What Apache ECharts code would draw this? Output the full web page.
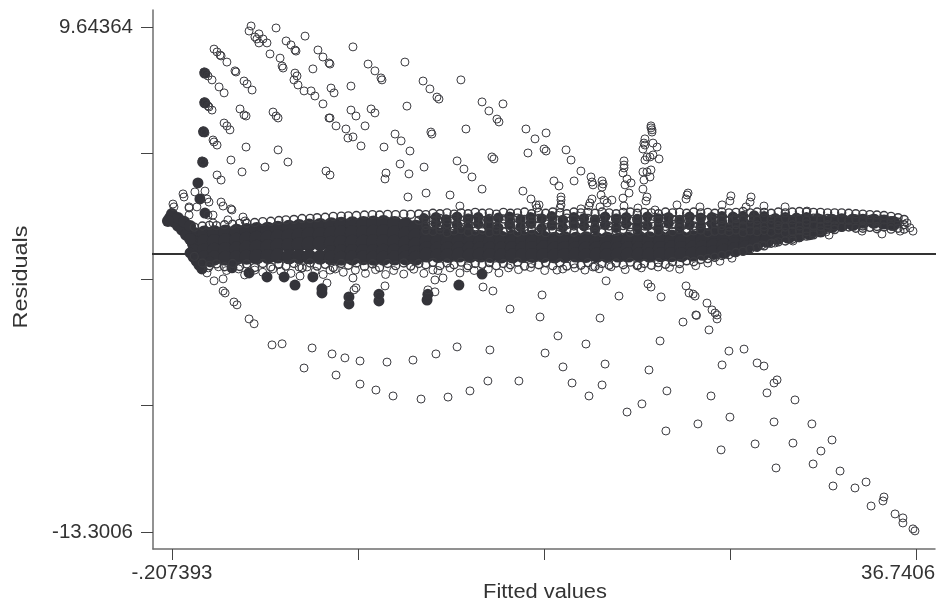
<!DOCTYPE html>
<html><head><meta charset="utf-8">
<style>html,body{margin:0;padding:0;background:#fff}#c{width:946px;height:607px}</style>
<script src="https://cdn.jsdelivr.net/npm/echarts@6/dist/echarts.min.js"></script>
</head><body><div id="c"></div>
<script>
const xTicks=[-0.207393,9.029,18.2666,27.5036,36.7406];
const yTicks=[9.64364,3.90758,-1.82848,-7.56454,-13.3006];
const xLabelAnchors=[-0.207393,35.85];
const xLabelTexts=["-.207393","36.7406"];
const yTickLabels={"9.64364":"9.64364","-13.3006":"-13.3006"};
const zeroLineY=-0.67;
const zeroLineX=[-1.3,38.18];

const upperCloud=[[3.72,9.69],[3.62,9.46],[4.11,9.33],[3.91,9.19],[4.01,9.10],[4.31,9.10],[4.11,8.92],[4.51,8.92],[4.96,9.60],[6.40,9.23],[5.46,9.01],[5.70,8.83],[5.90,8.60],[5.95,8.55],[7.04,8.60],[7.29,8.28],[7.59,8.01],[7.64,7.96],[8.78,8.74],[4.66,8.42],[5.16,8.23],[5.26,7.87],[5.31,7.78],[6.79,7.74],[5.90,7.55],[6.00,7.42],[5.85,7.24],[6.05,7.01],[6.35,6.74],[6.70,6.74],[6.89,6.51],[7.29,6.15],[7.69,6.87],[7.84,6.65],[8.68,6.96],[9.53,7.96],[9.87,7.65],[10.17,7.33],[10.22,7.24],[11.36,8.05],[12.26,7.19],[12.60,6.83],[12.95,6.46],[13.05,6.37],[14.14,7.24],[15.19,6.24],[15.53,5.83],[16.23,6.15],[15.93,5.46],[16.03,5.33],[11.46,6.05],[9.68,5.92],[9.87,5.74],[8.68,5.87],[8.93,5.60],[7.59,5.51],[7.64,5.51],[7.94,5.15],[8.43,5.01],[8.53,4.60],[8.78,4.65],[9.38,5.15],[9.18,4.24],[10.32,4.19],[10.87,4.78],[11.17,4.47],[11.61,4.01],[12.65,4.87],[12.70,4.78],[14.39,5.01],[15.68,3.74],[15.78,3.65],[13.95,3.56],[14.29,3.19],[14.69,2.83],[15.19,2.28],[12.31,3.28],[11.12,3.42],[11.56,2.97],[10.42,3.01],[10.37,2.74],[7.44,3.10],[7.64,2.92],[12.41,2.10],[13.60,2.01],[11.51,1.92],[14.09,1.51]];
const upperLeft=[[1.88,8.64],[2.03,8.51],[2.18,8.37],[2.23,8.33],[2.52,8.05],[2.92,7.65],[2.97,7.60],[3.37,7.19],[3.52,7.06],[3.77,6.78],[4.81,5.78],[4.96,5.60],[5.06,5.51],[3.17,5.92],[3.37,5.65],[3.47,5.60],[2.38,5.28],[2.52,5.15],[2.67,4.97],[1.83,4.51],[1.88,4.42],[2.03,4.28],[3.47,4.19],[5.06,4.06],[2.72,3.60],[3.27,3.06],[4.41,3.28],[5.55,3.51],[2.03,2.92],[2.23,2.69],[1.78,7.24],[2.13,6.92],[2.38,6.65],[1.63,6.01],[1.78,5.87],[1.43,2.19],[0.93,2.15],[0.34,2.06],[0.39,1.92],[-0.16,1.60],[-0.11,1.47],[0.64,1.47],[1.03,1.47],[1.53,1.83],[1.63,1.69],[2.23,1.69],[2.33,1.51],[2.72,1.38],[2.77,1.33],[2.57,0.88],[3.32,1.01],[3.42,0.83],[1.83,0.74],[1.58,1.10],[1.83,1.10],[0.64,1.10],[0.64,1.42],[1.38,7.60],[1.48,7.51],[1.58,7.42],[1.38,6.24],[1.48,6.15],[1.58,6.06],[1.33,4.92],[1.43,4.83],[1.28,3.56],[1.38,3.46]];
const spikes=[[17.37,5.01],[17.82,4.56],[18.37,4.83],[18.27,4.10],[18.37,4.01],[17.47,3.92],[19.36,4.06],[19.61,3.60],[20.10,3.10],[20.60,2.83],[20.65,2.60],[20.70,2.47],[21.15,2.65],[21.20,2.51],[21.15,2.37],[18.76,2.65],[19.01,2.42],[19.76,2.65],[17.22,2.19],[17.62,1.83],[17.87,1.56],[18.02,1.56],[17.92,1.42],[19.11,1.92],[19.11,1.78],[19.11,1.56],[19.06,1.42],[20.65,1.83],[20.55,1.65],[20.50,1.51],[20.10,1.38],[21.10,2.01],[21.25,1.78],[21.64,1.78],[21.40,1.65],[21.05,1.47],[22.24,3.56],[22.24,3.37],[22.24,3.24],[22.19,3.01],[22.39,2.74],[22.59,2.56],[22.29,2.47],[22.49,2.10],[22.19,1.87],[22.24,1.51],[23.58,5.15],[23.58,5.06],[23.63,4.97],[23.63,4.87],[23.28,4.56],[23.23,4.37],[23.18,4.10],[23.28,4.28],[23.68,4.37],[23.88,4.19],[23.38,3.74],[23.53,3.74],[23.98,3.65],[23.68,3.83],[23.28,3.60],[23.18,3.06],[23.58,3.15],[23.38,3.06],[23.23,2.69],[23.53,2.83],[23.18,2.28],[23.38,1.92],[23.33,1.74],[22.93,1.42],[23.78,1.33],[24.87,1.56],[25.37,2.01],[25.32,1.83],[25.42,2.10],[26.01,1.47],[27.55,1.97],[27.50,1.74],[27.11,1.56],[28.55,1.92],[28.50,1.69],[28.30,1.47],[29.19,1.51],[30.24,1.47],[31.33,1.28]];
const lowerCloud=[[1.53,-1.53],[1.88,-1.89],[2.33,-1.80],[2.33,-2.35],[2.43,-2.44],[2.87,-2.85],[3.02,-2.98],[3.62,-3.62],[3.87,-3.84],[4.76,-4.80],[5.26,-4.75],[6.75,-4.94],[7.74,-5.21],[8.38,-5.39],[9.13,-5.53],[10.47,-5.58],[11.76,-5.49],[12.90,-5.21],[13.95,-4.89],[15.58,-5.03],[18.32,-5.17],[16.58,-3.17],[18.07,-3.53],[6.35,-5.85],[7.94,-6.17],[9.13,-6.58],[9.92,-6.85],[10.77,-7.12],[12.16,-7.26],[13.50,-7.17],[14.59,-6.89],[15.48,-6.44],[17.02,-6.44],[21.05,-3.58],[18.96,-4.39],[20.35,-4.76],[19.21,-5.80],[21.30,-5.67],[19.66,-6.53],[21.15,-6.62],[20.50,-7.12],[23.48,-5.94],[24.03,-4.62],[25.17,-3.76],[25.81,-3.44],[25.84,-3.46],[26.36,-2.90],[26.61,-3.21],[26.76,-3.35],[26.86,-3.44],[26.86,-3.62],[26.46,-4.12],[27.45,-5.08],[28.20,-4.99],[27.11,-5.71],[28.85,-5.62],[29.19,-5.76],[29.84,-6.39],[29.69,-6.53],[29.34,-6.98],[30.73,-7.30],[24.37,-6.89],[26.56,-7.12],[23.13,-7.48],[22.39,-7.85],[24.32,-8.71],[25.91,-8.39],[27.50,-8.08],[29.69,-8.30],[31.57,-8.39],[32.57,-9.12],[30.63,-9.26],[28.75,-9.30],[27.06,-9.57],[32.02,-9.62],[29.79,-10.39],[31.63,-10.21],[32.97,-10.53],[32.62,-11.21],[33.71,-11.30],[34.26,-11.03],[35.15,-11.71],[35.10,-11.89],[34.51,-12.12],[35.70,-12.48],[36.09,-12.66],[36.09,-12.89],[36.59,-13.16],[36.69,-13.25]];
const lowerFringe=[[6.15,-1.67],[7.49,-1.99],[8.78,-1.76],[8.93,-2.21],[8.83,-2.30],[10.37,-2.12],[6.10,-1.26],[6.50,-1.26],[12.85,-1.85],[12.85,-2.39],[12.50,-2.30],[13.25,-1.76],[14.09,-1.53],[14.44,-1.30],[15.24,-2.17],[15.73,-2.35],[16.03,-1.53],[18.17,-2.53],[18.91,-1.40],[21.35,-1.89],[21.99,-2.58],[23.43,-2.03],[23.58,-2.17],[24.08,-2.62],[25.32,-2.12],[25.47,-2.44],[25.67,-2.49],[25.77,-2.58],[20.70,-1.26],[22.93,-1.17],[23.93,-1.26],[12.75,-1.40],[7.64,-1.40],[8.58,-2.67],[10.07,-2.58],[32.42,0.19],[32.27,0.33],[30.63,-0.08],[29.74,-0.17],[29.09,-0.26],[34.06,0.37],[35.05,0.24],[35.95,0.37],[36.59,0.37],[36.44,0.52],[36.29,0.74]];
const lowerExtra=[[1.6,-1.3],[2.1,-1.25],[2.5,-1.42],[3.1,-1.35],[3.4,-1.62],[3.9,-1.4],[4.3,-1.5],[4.8,-1.35],[5.2,-1.45],[5.7,-1.55],[6.9,-1.45],[7.3,-1.6],[7.9,-1.35],[8.3,-1.5],[8.9,-1.4],[9.4,-1.55],[9.9,-1.38],[10.4,-1.6],[10.8,-1.42],[11.3,-1.58],[11.8,-1.36],[12.3,-1.55],[13.0,-1.42],[13.6,-1.3],[14.8,-1.42],[15.5,-1.35],[16.5,-1.3],[17.0,-1.38],[17.6,-1.28],[18.3,-1.42],[19.2,-1.35],[19.8,-1.3],[20.3,-1.4],[21.0,-1.34],[21.6,-1.25],[22.3,-1.38],[23.1,-1.3],[24.5,-1.28],[25.0,-1.36],[25.8,-1.2],[26.4,-1.08],[27.0,-1.0],[27.6,-0.86]];
const darkBlobs=[[1.08,2.56],[1.18,1.83],[1.43,1.19],[1.42,7.55],[1.42,6.2],[1.36,4.88],[1.32,3.5],[0.69,-0.62],[0.84,-0.81],[0.99,-0.99],[1.13,-1.17],[1.28,-1.35],[1.68,-1.03],[2.77,-1.30],[3.62,-1.53],[4.51,-1.71],[5.36,-1.71],[5.90,-2.08],[6.79,-1.71],[7.24,-2.44],[7.24,-2.25],[8.58,-2.94],[8.58,-2.62],[10.07,-2.80],[10.07,-2.5],[12.46,-2.76],[12.5,-2.5],[14.04,-2.08],[15.19,-1.58]];
const headCore=[[-0.31,0.97],[-0.11,0.79],[0.09,0.61],[0.29,0.43],[0.49,0.20],[0.69,0.01],[-0.21,1.15],[0.09,0.97],[0.39,0.79],[0.69,0.60],[-0.41,0.83]];
const coreColumns=[[0.9,[0.22,-0.18,-0.55]],[1.4,[0.28,-0.12,-0.52,-0.85]],[1.9,[0.3,-0.1,-0.5,-0.85]],[2.45,[0.33,-0.08,-0.47,-0.86]],[3.0,[0.36,-0.04,-0.44,-0.84]],[3.5,[0.4,0,-0.4,-0.82]],[4.0,[0.44,0.04,-0.36,-0.8]],[4.55,[0.46,0.06,-0.34,-0.78]],[5.05,[0.5,0.1,-0.3,-0.76]],[5.6,[0.54,0.14,-0.28,-0.8]],[6.1,[0.58,0.18,-0.24,-0.78]],[6.6,[0.6,0.2,-0.22,-0.8]],[7.15,[0.63,0.22,-0.2,-0.82]],[7.7,[0.66,0.25,-0.18,-0.6,-0.85]],[8.2,[0.68,0.28,-0.16,-0.58,-0.86]],[8.75,[0.7,0.3,-0.14,-0.56,-0.85]],[9.3,[0.72,0.3,-0.14,-0.56,-0.84]],[9.8,[0.74,0.32,-0.12,-0.56,-0.86]],[10.3,[0.76,0.34,-0.12,-0.54,-0.86]],[10.85,[0.72,0.3,-0.14,-0.55,-0.85]],[11.4,[0.66,0.25,-0.18,-0.58,-0.85]],[11.9,[0.55,0.15,-0.25,-0.6,-0.86]],[12.45,[0.3,-0.1,-0.42,-0.72]],[13.0,[0.2,-0.12,-0.42,-0.74]],[13.5,[0.1,-0.14,-0.44,-0.74]],[14.05,[0.25,-0.1,-0.42,-0.72]],[14.6,[0.15,-0.12,-0.42,-0.74]],[15.1,[0.08,-0.14,-0.42,-0.72]],[15.6,[0.2,-0.12,-0.44,-0.74]],[16.15,[0.05,-0.16,-0.44,-0.76]],[16.7,[0.1,-0.14,-0.42,-0.76]],[17.2,[0.06,-0.12,-0.44,-0.74]],[17.7,[0.1,-0.14,-0.42,-0.74]],[18.25,[0.05,-0.12,-0.4,-0.74]],[18.8,[0,-0.18,-0.44,-0.76]],[19.3,[0.02,-0.14,-0.42,-0.74]],[19.85,[0,-0.16,-0.42,-0.72]],[20.35,[0.02,-0.14,-0.44,-0.74]],[20.9,[-0.02,-0.16,-0.42,-0.72]],[21.4,[0,-0.16,-0.44,-0.74]],[21.95,[-0.04,-0.18,-0.44,-0.72]],[22.45,[0,-0.14,-0.42,-0.72]],[23.0,[0.04,-0.14,-0.42,-0.7]],[23.5,[0.02,-0.16,-0.42,-0.72]],[24.05,[0.06,-0.12,-0.42,-0.7]],[24.6,[0.1,-0.12,-0.4,-0.7]],[25.1,[0.05,-0.14,-0.42,-0.7]],[25.65,[0.08,-0.12,-0.4,-0.68]],[26.15,[0.2,-0.08,-0.38,-0.64]],[26.7,[0.32,0,-0.3,-0.6]],[27.2,[0.44,0.06,-0.28,-0.55]],[27.75,[0.5,0.12,-0.24,-0.48]],[28.3,[0.55,0.18,-0.18,-0.38]],[28.8,[0.66,0.28,-0.1,-0.22]],[29.35,[0.7,0.32,0,-0.05]],[29.85,[0.76,0.38,0.08]],[30.4,[0.76,0.42,0.14]],[30.9,[0.76,0.46,0.2]],[31.45,[0.78,0.5,0.3]],[32.0,[0.8,0.55,0.42]],[32.55,[0.82,0.62]],[33.05,[0.84,0.68]],[33.6,[0.82,0.72]],[34.1,[0.82]],[34.65,[0.82]],[35.15,[0.78]],[35.6,[0.72]]];
const midColumns=[[12.3,[0.6,0.95]],[12.9,[0.72,1.0]],[13.4,[0.55,0.9]],[13.95,[0.66,1.02]],[14.5,[0.5,0.92]],[15.0,[0.7,1.0]],[15.5,[0.6,0.88]],[16.0,[0.52,0.98]],[16.55,[0.68,1.02]],[17.1,[0.56,0.9]],[17.6,[0.72,1.0]],[18.15,[0.5,0.94]],[18.65,[0.64,1.04]],[19.2,[0.54,0.88]],[19.75,[0.7,1.0]],[20.25,[0.6,0.96]],[20.8,[0.48,0.9]],[21.3,[0.66,1.02]],[21.85,[0.52,0.92]],[22.35,[0.7,1.0]],[22.9,[0.56,0.9]],[23.4,[0.62,1.02]],[23.95,[0.5,0.94]],[24.45,[0.72,1.0]],[25.0,[0.56,0.88]],[25.5,[0.66,1.02]],[26.05,[0.58,0.98]],[26.6,[0.72,1.0]],[27.1,[0.8,1.04]],[27.65,[0.84,1.02]],[28.15,[0.82,1.06]],[28.7,[0.94,1.08]],[29.2,[0.98,1.04]],[29.75,[0.96]],[30.25,[1.0]],[30.8,[0.98]],[31.3,[1.0]],[31.85,[0.96]]];
const openColumns=[[0.9,[0.55,-0.78]],[1.3,[0.6,-1.08]],[1.65,[0.63,-1.2]],[2.0,[0.62,-1.12]],[2.4,[0.66,-1.25]],[2.8,[0.68,-1.1]],[3.15,[0.72,-1.24]],[3.5,[0.73,-1.12]],[3.9,[0.76,-1.28]],[4.3,[0.8,-1.1]],[4.7,[0.82,-1.26]],[5.1,[0.85,-1.14]],[5.45,[0.88,-1.22]],[5.85,[0.9,-1.1]],[6.25,[0.94,-1.3]],[6.65,[0.95,-1.08]],[7.0,[0.98,-1.22]],[7.4,[1.0,-1.14]],[7.8,[1.04,-1.28]],[8.2,[1.05,-1.1]],[8.55,[1.06,-1.18]],[8.95,[1.08,-1.08]],[9.35,[1.1,-1.24]],[9.75,[1.12,-1.12]],[10.1,[1.1,-1.28]],[10.5,[1.13,-1.1]],[10.9,[1.12,-1.2]],[11.3,[1.14,-1.08]],[11.65,[1.13,-1.22]],[12.05,[1.15,0.86,-1.1]],[12.4,[1.12,0.9,0.62,0.4,-1.16]],[12.75,[1.18,0.84,0.66,0.35,-1.05]],[13.1,[1.16,0.94,0.58,0.42,-1.2]],[13.45,[1.2,0.88,0.7,0.3,-1.08]],[13.8,[1.14,0.92,0.6,0.38,-1.16]],[14.15,[1.2,0.86,0.68,0.44,-1.04]],[14.5,[1.16,0.96,0.62,0.32,-1.2]],[14.85,[1.22,0.9,0.56,0.36,-1.1]],[15.2,[1.18,0.84,0.7,0.42,-1.14]],[15.55,[1.2,0.94,0.64,0.3,-1.06]],[15.9,[1.14,0.88,0.58,0.38,-1.2]],[16.25,[1.22,0.92,0.7,0.34,-1.1]],[16.6,[1.18,0.86,0.62,0.44,-1.16]],[16.95,[1.2,0.96,0.66,0.32,-1.04]],[17.3,[1.24,0.9,0.58,0.38,-1.22]],[17.65,[1.16,0.84,0.68,0.42,-1.1]],[18.0,[1.22,0.94,0.6,0.36,-1.16]],[18.35,[1.18,0.88,0.7,0.3,-1.06]],[18.7,[1.24,0.92,0.62,0.44,-1.2]],[19.05,[1.2,0.86,0.56,0.34,-1.08]],[19.4,[1.16,0.96,0.66,0.4,-1.22]],[19.75,[1.24,0.9,0.6,0.32,-1.12]],[20.1,[1.2,0.84,0.7,0.38,-1.18]],[20.45,[1.22,0.94,0.64,0.42,-1.06]],[20.8,[1.18,0.88,0.58,0.34,-1.24]],[21.15,[1.24,0.92,0.68,0.3,-1.1]],[21.5,[1.2,0.86,0.6,0.4,-1.18]],[21.85,[1.16,0.96,0.7,0.36,-1.08]],[22.2,[1.22,0.9,0.62,0.44,-1.16]],[22.55,[1.24,0.84,0.56,0.32,-1.04]],[22.9,[1.18,0.94,0.66,0.38,-1.2]],[23.25,[1.22,0.88,0.6,0.42,-1.1]],[23.6,[1.2,0.92,0.7,0.3,-1.18]],[23.95,[1.16,0.86,0.64,0.36,-1.06]],[24.3,[1.24,0.96,0.58,0.4,-1.14]],[24.65,[1.2,0.9,0.68,0.34,-1.02]],[25.0,[1.22,0.84,0.62,0.44,-1.1]],[25.35,[1.18,0.94,0.7,0.32,-0.98]],[25.7,[1.24,0.88,0.6,0.38,-1.02]],[26.05,[1.2,0.92,0.66,0.42,-0.92]],[26.4,[1.22,0.86,0.58,0.3,-0.88]],[26.75,[1.18,0.96,0.7,0.36,-0.82]],[27.1,[1.24,0.9,0.62,0.4,-0.74]],[27.45,[1.2,0.84,0.56,0.34,-0.7]],[27.8,[1.22,0.94,0.66,0.42,-0.6]],[28.15,[1.26,0.88,0.6,0.3,-0.55]],[28.5,[1.2,0.92,0.7,0.38,-0.44]],[28.85,[1.24,0.86,0.64,0.34,-0.36]],[29.2,[1.22,0.96,0.58,0.4,-0.3]],[29.55,[1.18,0.9,0.68,0.32,-0.18]],[29.9,[1.24,0.84,0.62,0.42,-0.12]],[30.25,[1.2,0.94,0.56,0.3,-0.08]],[30.6,[1.24,0.88,0.66,0.36,0]],[30.95,[1.26,0.92,0.6,0.4,0.08]],[31.3,[1.24,0.86,0.7,0.34,0.14]],[31.65,[1.22,0.96,0.62,0.28,0.2]],[32.0,[1.22,0.9,0.58,0.38]],[32.35,[1.2,0.94,0.66,0.46]],[32.7,[1.2,0.88,0.6,0.44]],[33.05,[1.2,0.92,0.54]],[33.4,[1.18,0.86,0.56]],[33.75,[1.16,0.92,0.5]],[34.1,[1.14,0.88,0.6,0.5]],[34.45,[1.12,0.9,0.54]],[34.8,[1.1,0.86,0.58,0.48]],[35.15,[1.08,0.88,0.56]],[35.5,[1.04,0.84,0.6,0.46]],[35.85,[0.98,0.78,0.5]],[36.15,[0.9,0.66,0.46]]];

const flat=cols=>cols.flatMap(([x,ys])=>ys.map(y=>[x,y]));
const ink='#34343a';
const font='"Liberation Sans",Arial,sans-serif';
const openSeries=(data,bw)=>({type:'scatter',data,symbol:'circle',symbolSize:8,itemStyle:{opacity:1,color:'transparent',borderColor:'#3a3a3f',borderWidth:bw||1},silent:true,animation:false,z:4});
const filledSeries=(data,size,z)=>({type:'scatter',data,symbol:'circle',symbolSize:size,itemStyle:{opacity:1,color:ink},silent:true,animation:false,z});

const chart=echarts.init(document.getElementById('c'),null,{renderer:'canvas'});
chart.setOption({
 animation:false,backgroundColor:'#fff',
 grid:{left:153,right:11,top:10,bottom:58,containLabel:false,outerBoundsMode:'none'},
 textStyle:{fontFamily:font},
 xAxis:{type:'value',min:-1.151,max:37.684,splitLine:{show:false},
  axisLine:{show:true,onZero:false,lineStyle:{color:'#6e6e6e',width:1.5}},
  axisTick:{show:true,length:11,customValues:xTicks,lineStyle:{color:'#444',width:1}},
  axisLabel:{show:true,customValues:xLabelAnchors,margin:14,fontSize:20.5,color:'#333',hideOverlap:false,
   formatter:v=>xLabelTexts[xLabelAnchors.indexOf(v)]||''}},
 yAxis:{type:'value',min:-14.073,max:10.416,splitLine:{show:false},
  axisLine:{show:true,onZero:false,lineStyle:{color:'#6e6e6e',width:1.5}},
  axisTick:{show:true,length:12,customValues:yTicks,lineStyle:{color:'#444',width:1}},
  axisLabel:{show:true,customValues:[yTicks[0],yTicks[4]],margin:20,fontSize:20.5,color:'#333',hideOverlap:false,
   formatter:v=>yTickLabels[String(v)]||''}},
 graphic:[
  {type:'text',x:22,y:277,rotation:Math.PI/2,scaleX:1.2,style:{text:'Residuals',fontSize:19.5,fill:'#333',fontFamily:font,textAlign:'center',textVerticalAlign:'middle'}},
  {type:'text',x:545,y:593,scaleX:1.12,style:{text:'Fitted values',fontSize:19.5,fill:'#333',fontFamily:font,textAlign:'center',textVerticalAlign:'middle'}}
 ],
 series:[
  {type:'line',data:zeroLineX.map(x=>[x,zeroLineY]),clip:false,symbol:'none',lineStyle:{color:'#333',width:2},silent:true,animation:false,z:1},
  filledSeries(flat(coreColumns),15,3),
  filledSeries(headCore,12,3),
  filledSeries(darkBlobs,11,3),
  filledSeries(flat(midColumns),10.5,3),
  openSeries(flat(openColumns),1.4),
  openSeries(upperCloud),openSeries(upperLeft),openSeries(spikes),openSeries(lowerCloud),openSeries(lowerFringe),openSeries(lowerExtra)
 ]
});
</script></body></html>
